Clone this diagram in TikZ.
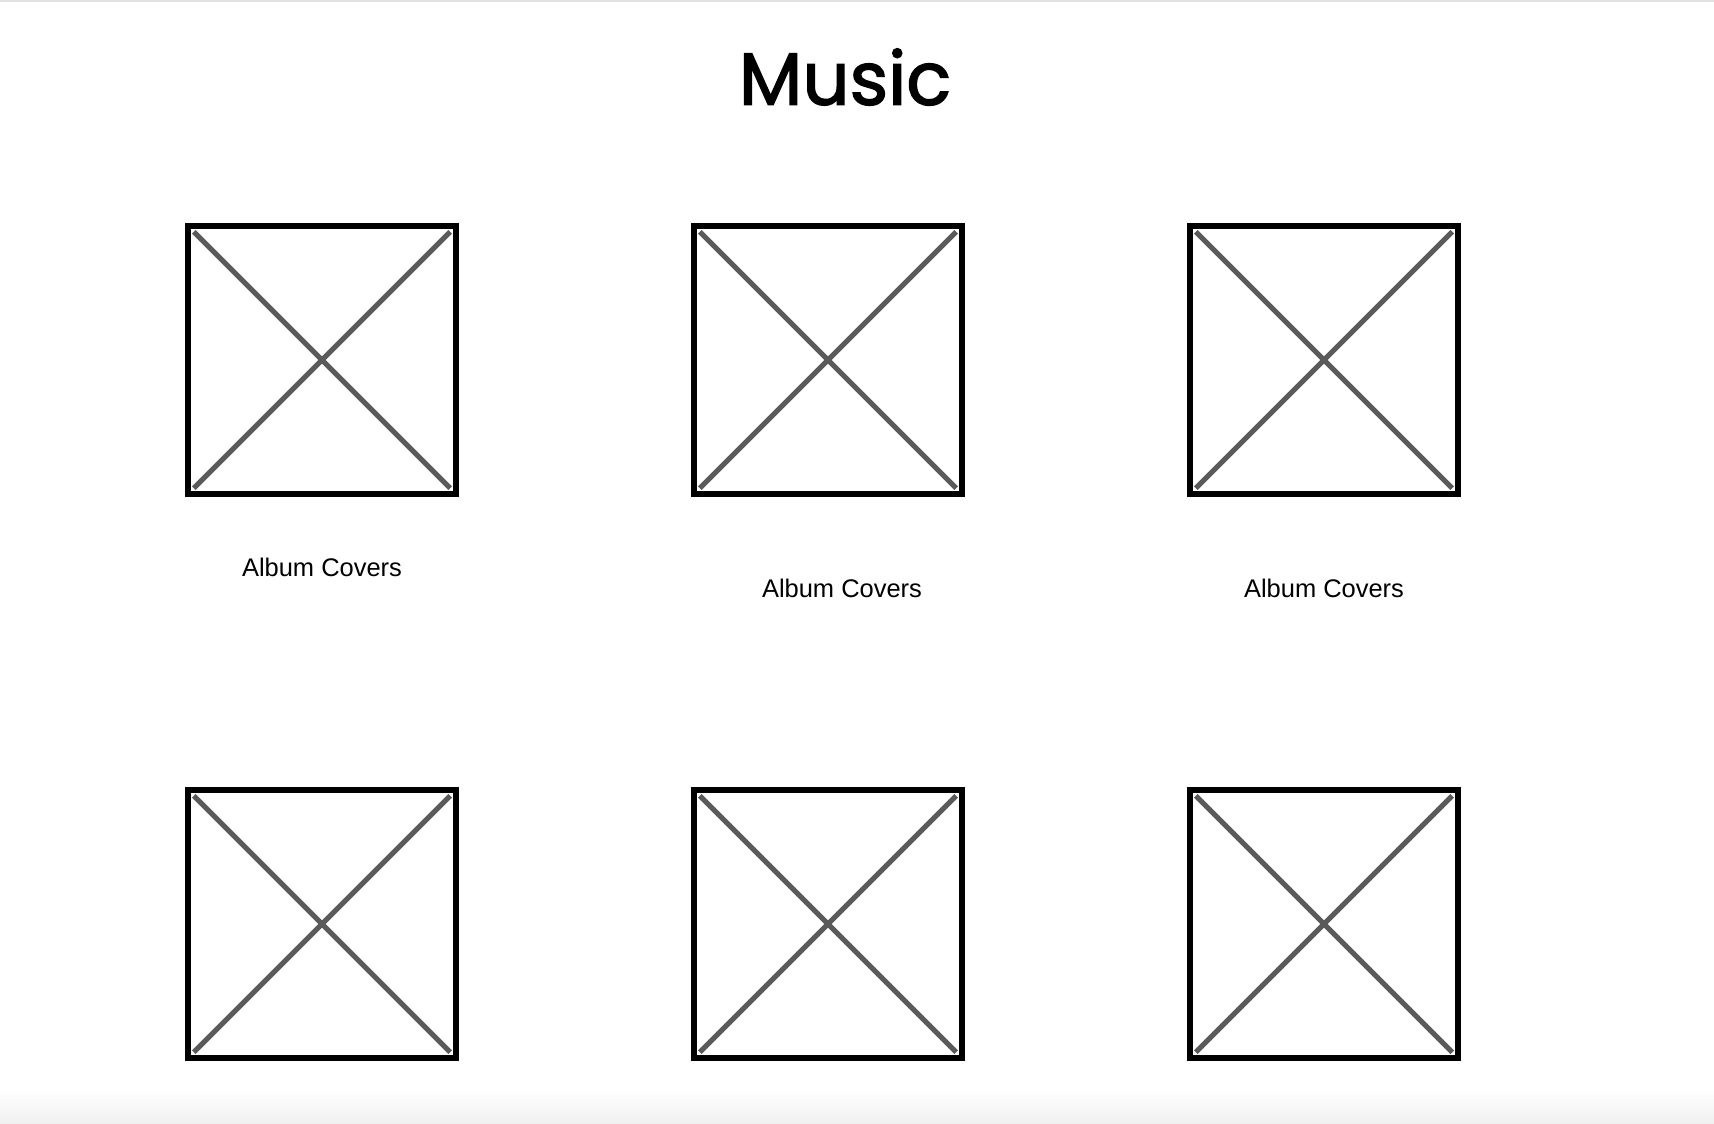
\documentclass[tikz,border=0pt]{standalone}
\usepackage{fontspec}
\setmainfont{Liberation Sans}
\newfontfamily\titlefont[FakeBold=2]{Poppins}
\usetikzlibrary{positioning}
\definecolor{cgrey}{HTML}{5A5A5A}
\definecolor{cline}{HTML}{E2E2E2}
\definecolor{cfade}{HTML}{F0F0F0}
\tikzset{
  every picture/.style={line width=0.11cm},
  cover/.style={draw=black, minimum size=5.36cm, inner sep=0pt},
  cross/.style={draw=cgrey, line width=0.105cm, shorten <=0.24cm, shorten >=0.24cm},
  caption/.style={font=\fontsize{14.5}{17}\selectfont, inner sep=0pt},
  title/.style={font=\titlefont\fontsize{42}{50}\selectfont, inner sep=0pt},
}
\begin{document}
\begin{tikzpicture}[x=0.02cm, y=-0.02cm]
  \useasboundingbox (0,0) rectangle (1714,1124);
  % page edges
  \fill[cline] (0,0) rectangle (1714,2.5);
  \shade[top color=white, bottom color=cfade, draw=none] (0,1088) rectangle (1714,1124);
  \node[title] (music) at (845,77) {Music};
  % album grid
  \foreach \n/\cx/\cy in {1/322/360, 2/828/360, 3/1324/360, 4/322/924, 5/828/924, 6/1324/924} {
    \node[cover] (cover\n) at (\cx,\cy) {};
    \draw[cross] (cover\n.north west) -- (cover\n.south east);
    \draw[cross] (cover\n.north east) -- (cover\n.south west);
  }
  \node[caption] (label1) at (322,567) {Album Covers};
  \node[caption] (label2) at (842,588) {Album Covers};
  \node[caption] (label3) at (1324,588) {Album Covers};
\end{tikzpicture}
\end{document}
